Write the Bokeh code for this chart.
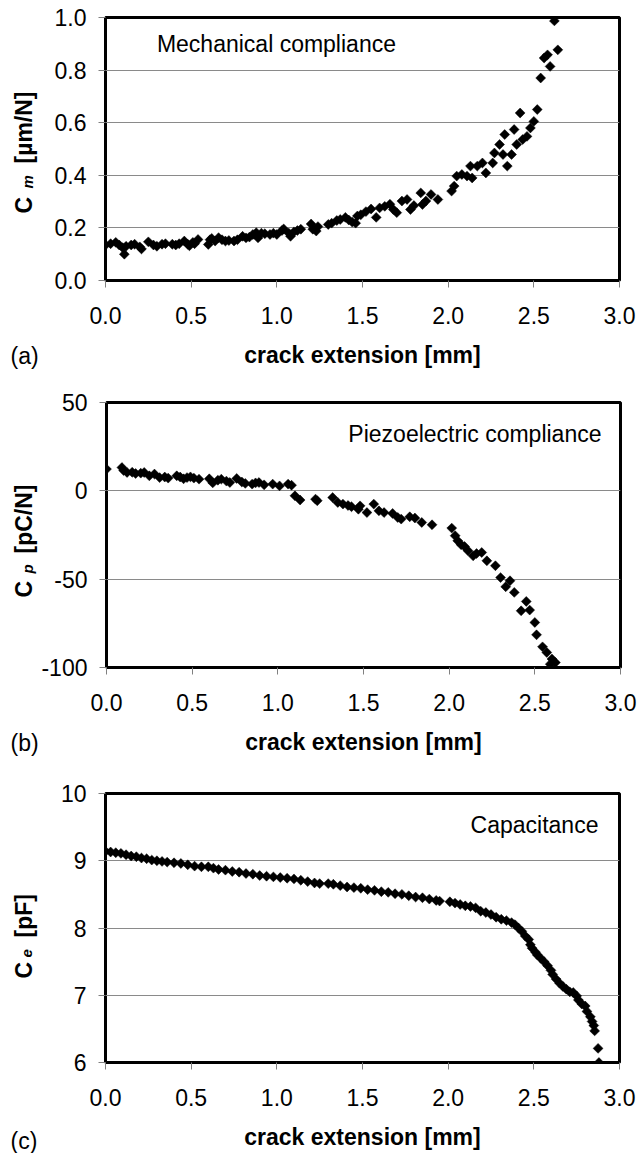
import numpy as np
from bokeh.plotting import figure
from bokeh.models import Range1d, FixedTicker, NumeralTickFormatter, Label
from bokeh.layouts import column, row
from bokeh.embed import file_html
from bokeh.resources import INLINE

FONT = "Liberation Sans"

x_ticks = [0.0, 0.5, 1.0, 1.5, 2.0, 2.5, 3.0]
a_ticks = [0.0, 0.2, 0.4, 0.6, 0.8, 1.0]
b_ticks = [-100, -50, 0, 50]
c_ticks = [6, 7, 8, 9, 10]
x_label = "crack extension [mm]"

# (a) mechanical compliance  [um/N]
a_x = [0.00, 0.03, 0.06, 0.08, 0.10, 0.11, 0.12, 0.15, 0.17, 0.20, 0.21, 0.25, 0.28, 0.30,
       0.33, 0.35, 0.39, 0.41, 0.43, 0.46, 0.48, 0.49, 0.51, 0.52, 0.54, 0.60, 0.61, 0.62,
       0.64, 0.66, 0.68, 0.70, 0.72, 0.75, 0.77, 0.80, 0.82, 0.84, 0.86, 0.88, 0.89, 0.91,
       0.93, 0.96, 0.98, 1.00, 1.03, 1.04, 1.07, 1.08, 1.10, 1.12, 1.14, 1.20, 1.21, 1.23,
       1.24, 1.30, 1.32, 1.35, 1.37, 1.40, 1.42, 1.44, 1.46, 1.47, 1.49, 1.52, 1.55, 1.58,
       1.60, 1.63, 1.66, 1.68, 1.70, 1.73, 1.76, 1.78, 1.80, 1.84, 1.85, 1.87, 1.90, 1.94,
       2.02, 2.035, 2.05, 2.08, 2.11, 2.13, 2.14, 2.17, 2.20, 2.22, 2.26, 2.27, 2.30, 2.32,
       2.33, 2.345, 2.37, 2.385, 2.40, 2.42, 2.435, 2.46, 2.48, 2.50, 2.52, 2.54, 2.56, 2.58,
       2.595, 2.62, 2.64]
a_y = [0.135, 0.140, 0.145, 0.135, 0.125, 0.100, 0.130, 0.135, 0.138, 0.128, 0.120, 0.147, 0.135, 0.130,
       0.138, 0.140, 0.138, 0.135, 0.140, 0.150, 0.138, 0.132, 0.145, 0.140, 0.156, 0.137, 0.155, 0.160,
       0.150, 0.163, 0.155, 0.150, 0.152, 0.150, 0.155, 0.168, 0.162, 0.165, 0.175, 0.182, 0.162, 0.180,
       0.178, 0.175, 0.180, 0.175, 0.190, 0.196, 0.180, 0.168, 0.185, 0.190, 0.195, 0.215, 0.195, 0.188,
       0.205, 0.213, 0.218, 0.228, 0.232, 0.240, 0.230, 0.222, 0.218, 0.245, 0.250, 0.262, 0.272, 0.240,
       0.276, 0.282, 0.290, 0.270, 0.258, 0.302, 0.308, 0.270, 0.285, 0.333, 0.289, 0.302, 0.327, 0.308,
       0.340, 0.359, 0.397, 0.403, 0.397, 0.435, 0.390, 0.435, 0.447, 0.409, 0.447, 0.485, 0.517, 0.479,
       0.555, 0.435, 0.479, 0.574, 0.517, 0.637, 0.536, 0.548, 0.580, 0.605, 0.650, 0.770, 0.846, 0.858,
       0.814, 0.987, 0.877]

# (b) piezoelectric compliance [pC/N]
b_x = [0.00, 0.09, 0.10, 0.12, 0.15, 0.17, 0.20, 0.22, 0.25, 0.28, 0.31, 0.34, 0.36, 0.41, 0.43,
       0.45, 0.47, 0.49, 0.51, 0.54, 0.60, 0.62, 0.65, 0.67, 0.70, 0.72, 0.76, 0.79, 0.81, 0.85,
       0.87, 0.89, 0.92, 0.97, 1.01, 1.06, 1.08, 1.10, 1.13, 1.22, 1.23, 1.32, 1.35, 1.38, 1.41,
       1.43, 1.47, 1.48, 1.52, 1.56, 1.59, 1.62, 1.67, 1.70, 1.72, 1.77, 1.80, 1.84, 1.90, 2.015,
       2.035, 2.05, 2.07, 2.09, 2.11, 2.14, 2.16, 2.19, 2.22, 2.27, 2.30, 2.33, 2.355, 2.38, 2.42,
       2.45, 2.47, 2.50, 2.51, 2.545, 2.57, 2.59, 2.60, 2.62]
b_y = [12.3, 13.2, 11.5, 10.4, 10.5, 9.8, 10.0, 10.4, 8.5, 9.5, 7.5, 7.8, 7.2, 8.5, 7.8,
       6.8, 7.5, 7.9, 7.2, 6.6, 6.8, 4.5, 6.0, 6.6, 5.5, 4.7, 7.0, 5.0, 4.2, 3.8,
       4.5, 4.7, 3.4, 3.8, 2.8, 3.8, 3.2, -2.8, -5.2, -4.7, -5.6, -3.8, -6.6, -7.5, -8.3,
       -9.0, -10.4, -8.5, -12.3, -7.5, -11.3, -12.3, -12.8, -15.1, -16.0, -14.7, -15.4, -17.9, -19.2, -21.1,
       -25.4, -28.3, -30.5, -31.5, -33.9, -36.8, -35.5, -34.9, -39.6, -42.4, -49.1, -54.3, -50.9, -57.5, -67.9,
       -62.6, -67.5, -74.5, -81.5, -88.3, -91.5, -98.1, -95.2, -97.2]

# (c) capacitance [pF]
c_x = [0.00, 0.03, 0.06, 0.09, 0.12, 0.15, 0.18, 0.21, 0.24, 0.27, 0.30, 0.33, 0.36, 0.40, 0.44,
       0.48, 0.52, 0.56, 0.60, 0.63, 0.66, 0.70, 0.74, 0.78, 0.82, 0.86, 0.90, 0.94, 0.98, 1.02,
       1.06, 1.10, 1.14, 1.18, 1.22, 1.25, 1.30, 1.33, 1.37, 1.41, 1.45, 1.49, 1.53, 1.57, 1.61,
       1.65, 1.69, 1.73, 1.77, 1.81, 1.85, 1.89, 1.93, 1.95, 2.01, 2.04, 2.07, 2.10, 2.13, 2.16,
       2.19, 2.22, 2.25, 2.28, 2.31, 2.34, 2.37, 2.39, 2.41, 2.43, 2.45, 2.47, 2.48, 2.49, 2.51,
       2.52, 2.54, 2.56, 2.58, 2.60, 2.61, 2.63, 2.65, 2.67, 2.69, 2.71, 2.73, 2.75, 2.76, 2.78,
       2.80, 2.81, 2.83, 2.84, 2.85, 2.855, 2.875, 2.88]
c_y = [9.14, 9.13, 9.12, 9.11, 9.09, 9.07, 9.06, 9.04, 9.03, 9.01, 9.00, 8.99, 8.98, 8.97, 8.96,
       8.94, 8.92, 8.91, 8.91, 8.89, 8.87, 8.86, 8.84, 8.83, 8.81, 8.80, 8.78, 8.77, 8.76, 8.75,
       8.74, 8.73, 8.71, 8.69, 8.67, 8.66, 8.66, 8.65, 8.63, 8.61, 8.60, 8.59, 8.57, 8.56, 8.54,
       8.53, 8.51, 8.50, 8.48, 8.46, 8.45, 8.43, 8.41, 8.40, 8.39, 8.37, 8.35, 8.33, 8.32, 8.30,
       8.25, 8.23, 8.20, 8.16, 8.13, 8.11, 8.08, 8.05, 8.00, 7.95, 7.88, 7.83, 7.75, 7.70, 7.64,
       7.60, 7.55, 7.50, 7.44, 7.37, 7.31, 7.24, 7.18, 7.13, 7.09, 7.05, 7.04, 6.99, 6.93, 6.87,
       6.84, 6.76, 6.68, 6.61, 6.55, 6.47, 6.21, 6.00]

SIDE_W = 38


def make_panel(xs, ys, yr, yticks, yfmt, fh, top, bottom):
    p = figure(frame_width=514, frame_height=fh, min_border_left=67, min_border_right=18,
               min_border_top=top, min_border_bottom=bottom,
               x_range=Range1d(0, 3), y_range=Range1d(*yr), title=None,
               output_backend="svg", toolbar_location=None,
               background_fill_color="white", border_fill_color="white")
    p.outline_line_color = "black"
    p.outline_line_width = 3
    p.outline_line_alpha = 1.0
    p.xgrid.visible = False
    p.ygrid.grid_line_color = "#8a8a8a"
    p.ygrid.grid_line_width = 1
    for ax in (p.xaxis, p.yaxis):
        ax.axis_line_color = None
        ax.major_tick_in = 0
        ax.major_tick_out = 7
        ax.minor_tick_line_color = None
        ax.major_tick_line_color = "#808080"
        ax.major_label_text_font = FONT
        ax.major_label_text_font_size = "23px"
        ax.major_label_text_color = "black"
    p.xaxis.ticker = FixedTicker(ticks=x_ticks)
    p.xaxis.formatter = NumeralTickFormatter(format="0.0")
    p.xaxis.major_label_standoff = 19
    p.xaxis.axis_label = x_label
    p.xaxis.axis_label_text_font = FONT
    p.xaxis.axis_label_text_font_size = "23px"
    p.xaxis.axis_label_text_font_style = "bold"
    p.xaxis.axis_label_text_color = "black"
    p.xaxis.axis_label_standoff = 15
    p.yaxis.ticker = FixedTicker(ticks=yticks)
    p.yaxis.formatter = NumeralTickFormatter(format=yfmt)
    p.yaxis.major_label_standoff = 12
    p.scatter(xs, ys, marker="square", angle=np.pi / 4, size=7,
              fill_color="black", line_color="black", line_width=0.5)
    return p


def side_fig(h, frame_top):
    # the row aligns this frame's top with the main frame's top (frame_top px
    # below the row's top), so shift the range: data y == h - (px from row top)
    s = figure(frame_width=SIDE_W, frame_height=h, min_border=0, title=None,
               x_range=Range1d(0, SIDE_W), y_range=Range1d(-frame_top, h - frame_top),
               x_axis_type=None, y_axis_type=None,
               output_backend="svg", toolbar_location=None,
               background_fill_color="white", border_fill_color="white")
    s.outline_line_color = None
    return s


def add_text(p, x, y, text, size="23px", style="normal", angle=0.0,
             align="left", baseline="middle"):
    p.add_layout(Label(x=x, y=y, text=text,
                       text_font=FONT, text_font_size=size, text_font_style=style,
                       angle=angle, text_align=align, text_baseline=baseline,
                       text_color="black"))


def ylabel(s, main, sub, unit, y_main, y_sub, y_unit):
    add_text(s, 23.5, y_main, main, style="bold", angle=np.pi / 2)
    add_text(s, 26.5, y_sub, sub, size="15px", style="bold italic", angle=np.pi / 2)
    add_text(s, 23.5, y_unit, unit, style="bold", angle=np.pi / 2)


# panel (a): page rows 0..380
pa = make_panel(a_x, a_y, (0, 1), a_ticks, "0.0", 263, 17, 100)
add_text(pa, 0.30, 0.8975, "Mechanical compliance")
sa = side_fig(380, 17)
add_text(sa, 10, 25, "(a)")
ylabel(sa, "C", "m", "[\u00b5m/N]", 167, 192, 217)

# panel (b): page rows 380..767
pb = make_panel(b_x, b_y, (-100, 50), b_ticks, "0", 265, 22, 100)
add_text(pb, 2.889, 32.3, "Piezoelectric compliance", align="right")
sb = side_fig(387, 22)
add_text(sb, 10, 25, "(b)")
ylabel(sb, "C", "p", "[pC/N]", 170, 194, 214)

# panel (c): page rows 767..1153
pc = make_panel(c_x, c_y, (6, 10), c_ticks, "0", 269, 26, 91)
add_text(pc, 2.877, 9.53, "Capacitance", align="right")
sc = side_fig(386, 26)
add_text(sc, 10, 13, "(c)")
ylabel(sc, "C", "e", "[pF]", 175, 196, 216)

layout = column(row(sa, pa), row(sb, pb), row(sc, pc))
open("out.html", "w").write(file_html(layout, INLINE))
